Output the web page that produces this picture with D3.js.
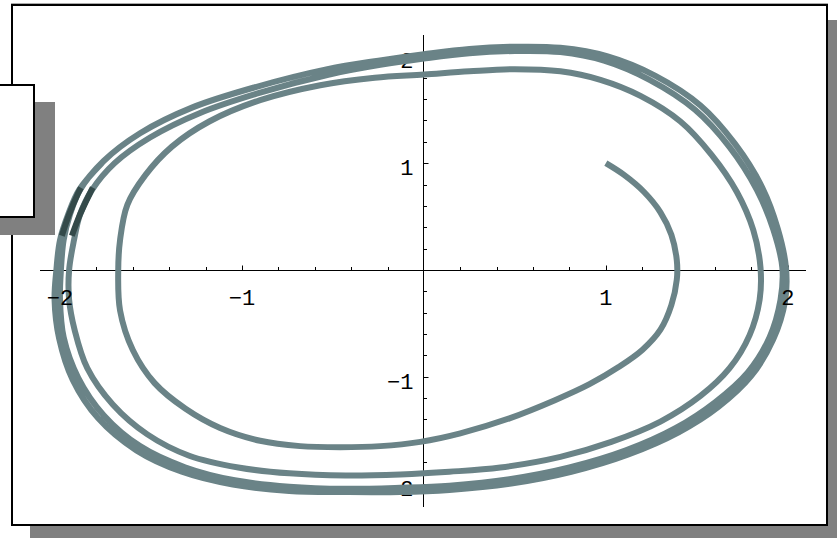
<!DOCTYPE html>
<html><head><meta charset="utf-8">
<script src="https://cdn.jsdelivr.net/npm/d3@7/dist/d3.min.js"></script>
<style>html,body{margin:0;padding:0;background:#fff;overflow:hidden}svg{display:block}</style>
</head><body>
<svg id="c" width="837" height="538"></svg>
<script>
// ---- data ----
const xTicksMajor = [-2, -1, 1, 2];
const yTicksMajor = [-2, -1, 1, 2];
const xTickLabels = ["\u22122", "\u22121", "1", "2"];
const yTickLabels = ["\u22122", "\u22121", "1", "2"];
const xDomain = [-2.11, 2.10];
const yDomain = [-2.22, 2.20];

const turn1 = [[1.00,1.00],[1.10,0.89],[1.21,0.73],[1.30,0.54],[1.36,0.33],[1.39,0.09],[1.39,-0.09],[1.36,-0.33],[1.30,-0.56],[1.20,-0.75],[1.07,-0.91],[0.91,-1.07],[0.72,-1.22],[0.47,-1.39],[0.20,-1.53],[-0.02,-1.61],[-0.24,-1.65],[-0.46,-1.66],[-0.68,-1.65],[-0.90,-1.60],[-1.12,-1.48],[-1.31,-1.30],[-1.48,-1.06],[-1.60,-0.75],[-1.67,-0.38],[-1.68,0]];
const turn2 = [[-1.67,0.28],[-1.63,0.61],[-1.53,0.89],[-1.385,1.155],[-1.18,1.39],[-0.90,1.59],[-0.57,1.73],[-0.27,1.80],[0,1.83],[0.25,1.86],[0.50,1.88],[0.75,1.86],[0.97,1.78],[1.19,1.63],[1.41,1.39],[1.58,1.08],[1.72,0.73],[1.81,0.375],[1.85,0.02],[1.845,-0.28],[1.79,-0.61],[1.68,-0.92],[1.52,-1.18],[1.30,-1.42],[1.03,-1.61],[0.75,-1.75],[0.42,-1.85],[0.14,-1.89],[-0.13,-1.915],[-0.43,-1.925],[-0.74,-1.905],[-1.02,-1.85],[-1.29,-1.74],[-1.52,-1.54],[-1.71,-1.26],[-1.85,-0.92],[-1.92,-0.56],[-1.95,-0.28],[-1.95,0]];
const turn3 = [[-1.923,0.28],[-1.89,0.52],[-1.824,0.75],[-1.70,1.00],[-1.505,1.24],[-1.23,1.47],[-0.90,1.66],[-0.52,1.83],[-0.24,1.92],[0,1.98],[0.25,2.03],[0.50,2.05],[0.75,2.04],[0.99,1.96],[1.24,1.78],[1.49,1.50],[1.68,1.15],[1.83,0.75],[1.92,0.38],[1.97,0.02],[1.96,-0.28],[1.90,-0.63],[1.78,-0.96],[1.60,-1.24],[1.385,-1.48],[1.11,-1.69],[0.80,-1.85],[0.47,-1.96],[0.14,-2.02],[-0.13,-2.04],[-0.43,-2.05],[-0.74,-2.03],[-1.04,-1.97],[-1.31,-1.85],[-1.56,-1.65],[-1.76,-1.36],[-1.90,-1.01],[-1.98,-0.63],[-2.00,-0.28],[-1.995,0]];
const turn4 = [[-1.98,0.28],[-1.945,0.52],[-1.89,0.75],[-1.76,1.02],[-1.56,1.28],[-1.275,1.52],[-0.93,1.71],[-0.53,1.88],[-0.25,1.96],[0,2.02],[0.25,2.07],[0.50,2.09],[0.75,2.08],[1.01,2.00],[1.27,1.82],[1.52,1.54],[1.71,1.18],[1.86,0.77],[1.945,0.385],[1.99,0.02],[1.985,-0.29],[1.92,-0.65],[1.80,-0.99],[1.62,-1.28],[1.40,-1.52],[1.12,-1.73],[0.81,-1.89],[0.48,-2.00],[0.14,-2.06],[-0.13,-2.08],[-0.43,-2.08],[-0.74,-2.07],[-1.05,-2.01],[-1.33,-1.89],[-1.58,-1.69],[-1.79,-1.39],[-1.93,-1.03],[-2.005,-0.64],[-2.03,-0.28],[-2.02,0]];
const turn5 = [[-2.00,0.28],[-1.955,0.52],[-1.895,0.75],[-1.77,1.00]];
const darkInner = [[-1.935,0.32],[-1.89,0.52],[-1.835,0.72],[-1.82,0.77]];
const darkOuter = [[-1.99,0.32],[-1.95,0.52],[-1.90,0.72],[-1.885,0.77]];

// ---- drawing ----
const svg = d3.select("#c");
const W = 837, H = 538;

// outer frame shadow + frame
svg.append("rect").attr("x",30).attr("y",20).attr("width",W).attr("height",H).attr("fill","#808080");
svg.append("rect").attr("x",12).attr("y",5).attr("width",815).attr("height",520)
  .attr("fill","#fff").attr("stroke","#000").attr("stroke-width",2);
svg.append("line").attr("x1",11).attr("x2",828).attr("y1",3.5).attr("y2",3.5).attr("stroke","#aaa").attr("stroke-width",1);

const x = d3.scaleLinear().domain(xDomain).range([40, 806]);
const y = d3.scaleLinear().domain(yDomain).range([507, 35]);

const g = svg.append("g");
// axes lines
g.append("line").attr("x1",x(xDomain[0])).attr("x2",x(xDomain[1])).attr("y1",Math.round(y(0))+0.5).attr("y2",Math.round(y(0))+0.5).attr("stroke","#000").attr("stroke-width",1);
g.append("line").attr("x1",Math.round(x(0))-0.5).attr("x2",Math.round(x(0))-0.5).attr("y1",y(yDomain[0])).attr("y2",y(yDomain[1])).attr("stroke","#000").attr("stroke-width",1);

const y0 = Math.round(y(0))+0.5, x0 = Math.round(x(0))-0.5;
const minorX = d3.range(-20, 21, 2).map(d => d/10).filter(d => d !== 0);
const minorY = d3.range(-20, 21, 2).map(d => d/10).filter(d => d !== 0);
minorX.forEach(v => {
  const major = Math.abs(v - Math.round(v)) < 1e-9;
  g.append("line").attr("x1",Math.round(x(v))+0.5).attr("x2",Math.round(x(v))+0.5)
    .attr("y1",y0).attr("y2",y0 - (major?5:3.5)).attr("stroke","#000").attr("stroke-width",1);
});
minorY.forEach(v => {
  const major = Math.abs(v - Math.round(v)) < 1e-9;
  g.append("line").attr("y1",Math.round(y(v))+0.5).attr("y2",Math.round(y(v))+0.5)
    .attr("x1",x0).attr("x2",x0 + (major?5:3.5)).attr("stroke","#000").attr("stroke-width",1);
});

const font = "'Liberation Mono','Courier New',monospace";
yTicksMajor.forEach((v,i) => {
  g.append("text").attr("x",x0-10).attr("y",y(v)+12).attr("text-anchor","end")
    .attr("font-family",font).attr("font-size",22).attr("fill","#000").text(yTickLabels[i]);
});

// trajectory
const traj = [].concat(turn1, turn2, turn3, turn4, turn5);
const line = d3.line().x(d => x(d[0])).y(d => y(d[1])).curve(d3.curveCatmullRom.alpha(0.5));
g.append("path").attr("d", line(traj)).attr("fill","none").attr("stroke","#6a8387")
  .attr("stroke-width",6).attr("stroke-linejoin","round").attr("stroke-linecap","butt");
[darkInner, darkOuter].forEach(seg => {
  g.append("path").attr("d", line(seg)).attr("fill","none").attr("stroke","#344a4a")
    .attr("stroke-width",6).attr("stroke-linecap","butt");
});

// x tick labels drawn above the curve
xTicksMajor.forEach((v,i) => {
  g.append("text").attr("x",x(v)).attr("y",y0+34).attr("text-anchor","middle")
    .attr("font-family",font).attr("font-size",22).attr("fill","#000").text(xTickLabels[i]);
});

// legend box (empty) with shadow
svg.append("rect").attr("x",-10).attr("y",102).attr("width",65).attr("height",133).attr("fill","#808080");
svg.append("rect").attr("x",-10).attr("y",85).attr("width",44).attr("height",132)
  .attr("fill","#fff").attr("stroke","#000").attr("stroke-width",2);
</script>
</body></html>
